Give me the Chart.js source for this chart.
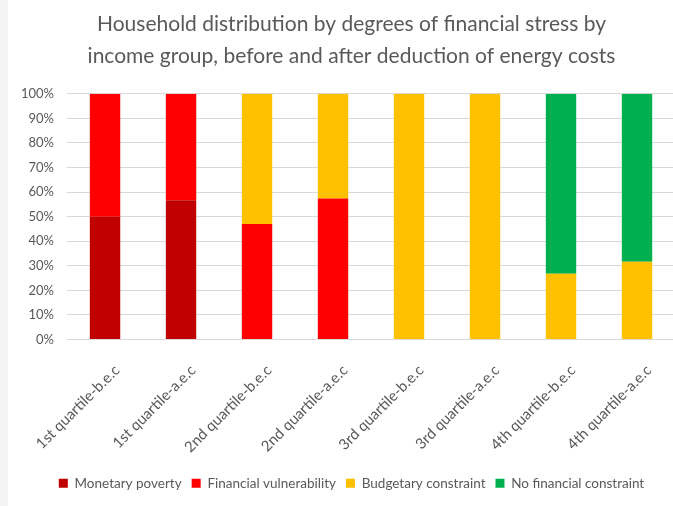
<!DOCTYPE html>
<html>
<head>
<meta charset="utf-8">
<script src="https://cdn.jsdelivr.net/npm/chart.js@4/dist/chart.umd.min.js"></script>
<style>
  html, body { margin: 0; padding: 0; background: #f3f3f3; overflow: hidden; }
  #wrap { position: absolute; left: 8px; top: 0; width: 667px; height: 506px; background: #fff; }
</style>
</head>
<body>
<div id="wrap"><canvas id="stressChart" width="667" height="506"></canvas></div>
<script>
const categories = [
  "1st quartile-b.e.c", "1st quartile-a.e.c",
  "2nd quartile-b.e.c", "2nd quartile-a.e.c",
  "3rd quartile-b.e.c", "3rd quartile-a.e.c",
  "4th quartile-b.e.c", "4th quartile-a.e.c"
];
const monetaryPoverty = [50, 56.7, 0, 0, 0, 0, 0, 0];
const financialVulnerability = [50, 43.3, 47, 57.4, 0, 0, 0, 0];
const budgetaryConstraint = [0, 0, 53, 42.6, 100, 100, 26.8, 31.7];
const noFinancialConstraint = [0, 0, 0, 0, 0, 0, 73.2, 68.3];
const yTicks = [0, 10, 20, 30, 40, 50, 60, 70, 80, 90, 100];

const ctx = document.getElementById("stressChart").getContext("2d");
const grey = "#595959";
const font = "Lato, 'Liberation Sans', sans-serif";

function series(label, data, color) {
  return { label: label, data: data, backgroundColor: color, barPercentage: 0.4, categoryPercentage: 1 };
}

// title and legend sit a little right of the canvas centre
const nudgeBlocks = {
  id: "nudgeBlocks",
  afterLayout(chart) {
    [chart.titleBlock, chart.legend].forEach(b => {
      if (b) { b.left += 10; b.right += 10; }
    });
  }
};

new Chart(ctx, {
  type: "bar",
  data: {
    labels: categories,
    datasets: [
      series("Monetary poverty", monetaryPoverty, "#c00000"),
      series("Financial vulnerability", financialVulnerability, "#ff0000"),
      series("Budgetary constraint", budgetaryConstraint, "#ffc000"),
      series("No financial constraint", noFinancialConstraint, "#00b050")
    ]
  },
  plugins: [nudgeBlocks],
  options: {
    responsive: false,
    animation: false,
    layout: { padding: { left: 0, right: 0, top: 4, bottom: 6 } },
    plugins: {
      title: {
        display: true,
        text: ["Household distribution by degrees of financial stress by",
               "income group, before and after deduction of energy costs"],
        color: grey,
        font: { family: font, size: 21, weight: "normal", lineHeight: 1.52 },
        padding: { top: 4, bottom: 22 }
      },
      legend: {
        position: "bottom",
        labels: {
          color: grey,
          boxWidth: 9,
          boxHeight: 9,
          padding: 10,
          font: { family: font, size: 13.5 }
        }
      },
      tooltip: { enabled: false }
    },
    scales: {
      x: {
        stacked: true,
        grid: { display: false },
        border: { display: false },
        afterFit: axis => { axis.height = 127; },
        ticks: {
          color: grey,
          font: { family: font, size: 15 },
          minRotation: 45,
          maxRotation: 45,
          padding: 14,
          labelOffset: 12
        }
      },
      y: {
        stacked: true,
        min: 0,
        max: 100,
        afterBuildTicks: axis => { axis.ticks = yTicks.map(v => ({ value: v })); },
        grid: { color: "#d9d9d9", drawTicks: false },
        border: { display: false },
        ticks: {
          color: grey,
          font: { family: font, size: 13 },
          padding: 13,
          callback: v => v + "%"
        }
      }
    }
  }
});
</script>
</body>
</html>
